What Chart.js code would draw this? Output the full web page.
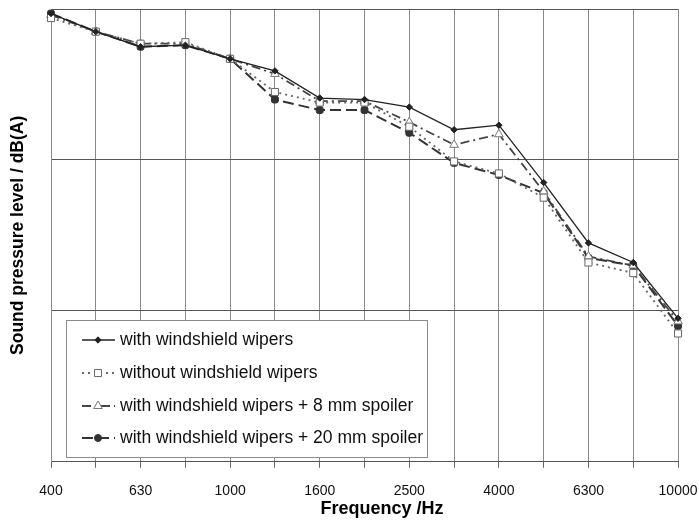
<!DOCTYPE html>
<html>
<head>
<meta charset="utf-8">
<script src="https://cdn.jsdelivr.net/npm/chart.js@4/dist/chart.umd.min.js"></script>
<style>
  html, body { margin: 0; padding: 0; background: #fff; }
  #wrap { width: 699px; height: 524px; position: relative; }
</style>
</head>
<body>
<div id="wrap"><canvas id="c" width="699" height="524"></canvas></div>
<script>
const categories = ['400','500','630','800','1000','1250','1600','2000','2500','3150','4000','5000','6300','8000','10000'];
const shownTicks = ['400','630','1000','1600','2500','4000','6300','10000'];
const withWipers    = [89.7, 88.5, 87.5, 87.6, 86.7, 85.9, 84.1, 84.0, 83.5, 82.0, 82.3, 78.5, 74.5, 73.2, 69.5];
const withoutWipers = [89.4, 88.5, 87.7, 87.8, 86.7, 84.5, 83.8, 83.8, 82.2, 79.9, 79.1, 77.5, 73.2, 72.5, 68.5];
const spoiler8      = [89.6, 88.5, 87.7, 87.7, 86.7, 85.7, 83.9, 83.9, 82.5, 81.0, 81.7, 77.9, 73.6, 73.0, 69.3];
const spoiler20     = [89.7, 88.5, 87.5, 87.6, 86.7, 84.0, 83.3, 83.3, 81.8, 79.8, 79.0, 77.8, 73.5, 73.0, 69.0];
const seriesNames = ['with windshield wipers', 'without windshield wipers', 'with windshield wipers + 8 mm spoiler', 'with windshield wipers + 20 mm spoiler'];

const FONT = "'Liberation Sans', Arial, sans-serif";

const datasets = [
  { label: seriesNames[0], data: withWipers, borderColor: '#222', borderWidth: 1.3, borderDash: [],
    pointStyle: 'rectRot', pointRadius: 3.2, pointBackgroundColor: '#222', pointBorderColor: '#222', pointBorderWidth: 1 },
  { label: seriesNames[1], data: withoutWipers, borderColor: '#666', borderWidth: 1.8, borderDash: [2, 4],
    pointStyle: 'rect', pointRadius: 5, pointBackgroundColor: '#fff', pointBorderColor: '#666', pointBorderWidth: 1 },
  { label: seriesNames[2], data: spoiler8, borderColor: '#444', borderWidth: 1.8, borderDash: [9, 4, 2, 4],
    pointStyle: 'triangle', pointRadius: 5, pointBackgroundColor: '#fff', pointBorderColor: '#777', pointBorderWidth: 1 },
  { label: seriesNames[3], data: spoiler20, borderColor: '#333', borderWidth: 2, borderDash: [11, 5],
    pointStyle: 'rectRounded', pointRadius: 4, pointBackgroundColor: '#333', pointBorderColor: '#333', pointBorderWidth: 1 }
];
datasets.forEach(d => { d.fill = false; d.tension = 0; d.pointHoverRadius = d.pointRadius; });

const legendPlugin = {
  id: 'boxLegend',
  afterDraw(chart) {
    const ctx = chart.ctx;
    const bx = 66, by = 320, bw = 361, bh = 137;
    ctx.save();
    ctx.fillStyle = '#fff';
    ctx.fillRect(bx, by, bw, bh);
    ctx.strokeStyle = '#8a8a8a';
    ctx.lineWidth = 1;
    ctx.strokeRect(bx + 0.5, by + 0.5, bw, bh);
    const rows = [340, 373, 406, 438];
    chart.data.datasets.forEach((ds, i) => {
      const y = rows[i];
      ctx.save();
      ctx.strokeStyle = ds.borderColor;
      ctx.lineWidth = ds.borderWidth;
      ctx.setLineDash(ds.borderDash || []);
      ctx.beginPath();
      ctx.moveTo(82, y); ctx.lineTo(115, y);
      ctx.stroke();
      ctx.setLineDash([]);
      ctx.fillStyle = ds.pointBackgroundColor;
      ctx.strokeStyle = ds.pointBorderColor;
      ctx.lineWidth = ds.pointBorderWidth;
      const style = i === 3 ? 'circle' : ds.pointStyle;
      const r = i === 3 ? 3.5 : ds.pointRadius;
      Chart.helpers.drawPoint(ctx, { pointStyle: style, radius: r, rotation: 0, borderWidth: ds.pointBorderWidth }, 98, y);
      ctx.restore();
      ctx.fillStyle = '#111';
      ctx.font = '17.5px ' + FONT;
      ctx.textBaseline = 'middle';
      ctx.textAlign = 'left';
      ctx.fillText(ds.label, 120, y);
    });
    ctx.restore();
  }
};

new Chart(document.getElementById('c'), {
  type: 'line',
  data: { labels: categories, datasets },
  plugins: [legendPlugin],
  options: {
    responsive: false,
    animation: false,
    layout: { padding: { left: 8, right: 10, top: 9, bottom: 0 } },
    plugins: { legend: { display: false }, tooltip: { enabled: false } },
    scales: {
      x: {
        type: 'category',
        offset: false,
        grid: { color: '#8a8a8a', lineWidth: 1, tickLength: 6, drawTicks: true, tickColor: '#666' },
        border: { color: '#555', width: 1 },
        ticks: {
          autoSkip: false, maxRotation: 0, minRotation: 0, padding: 1.5,
          color: '#111', font: { family: FONT, size: 14, lineHeight: 3.07 },
          callback(value, index) { const l = categories[index]; return shownTicks.includes(l) ? l : ''; }
        },
        title: { display: true, text: '\u00A0\u00A0\u00A0\u00A0\u00A0\u00A0\u00A0Frequency /Hz', color: '#000',
          font: { family: FONT, size: 18, weight: 'bold' }, padding: { top: -15.3, bottom: 4 } }
      },
      y: {
        min: 60, max: 90,
        grid: { color: '#555', lineWidth: 1, drawTicks: false },
        border: { color: '#8a8a8a', width: 1 },
        ticks: { display: false, stepSize: 10 },
        title: { display: true, text: 'Sound pressure level / dB(A)', color: '#000',
          font: { family: FONT, size: 17.5, weight: 'bold' }, padding: { top: 0, bottom: 22 } }
      }
    }
  }
});
</script>
</body>
</html>
